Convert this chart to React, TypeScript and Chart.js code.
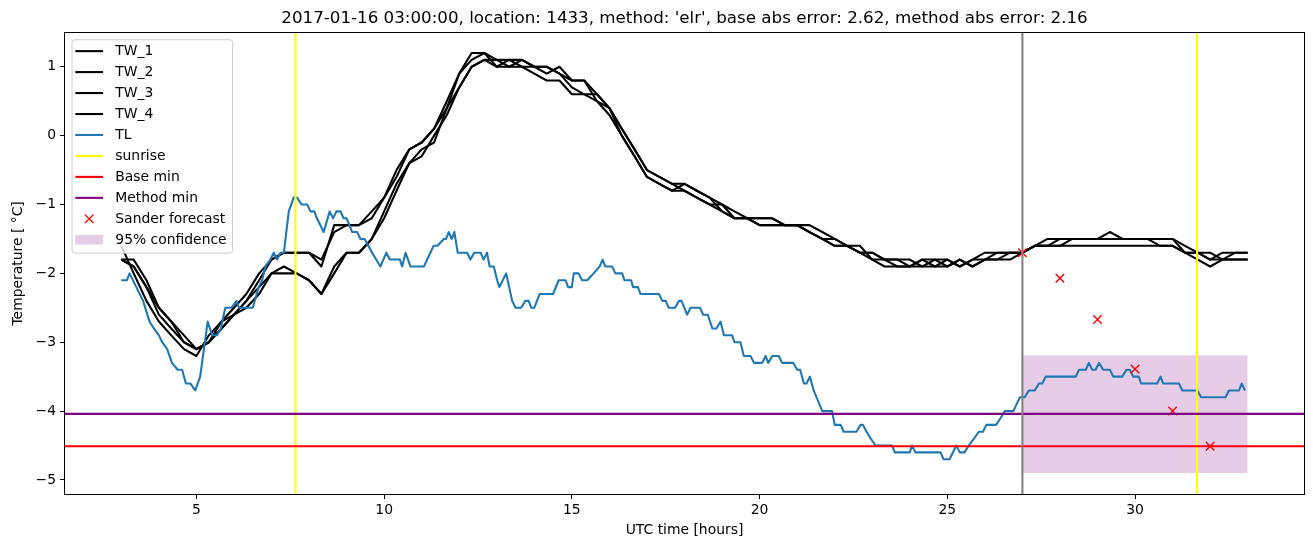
import React, { useEffect, useRef } from 'react';
import { Chart, registerables } from 'chart.js';

Chart.register(...registerables);

const FONT = "'DejaVu Sans', 'Liberation Sans', sans-serif";

const TITLE = "2017-01-16 03:00:00, location: 1433, method: 'elr', base abs error: 2.62, method abs error: 2.16";
const X_LABEL = 'UTC time [hours]';
const Y_LABEL = 'Temperature [ °C]';

const X_TICKS = [5, 10, 15, 20, 25, 30];
const Y_TICKS = [-5, -4, -3, -2, -1, 0, 1];

// 20-minute grid for the four TW series
const TW_TIME = [
  3.0, 3.33, 3.67, 4.0, 4.33, 4.67, 5.0, 5.33, 5.67, 6.0, 6.33, 6.67, 7.0, 7.33, 7.67, 8.0, 8.33, 8.67, 9.0, 9.33,
  9.67, 10.0, 10.33, 10.67, 11.0, 11.33, 11.67, 12.0, 12.33, 12.67, 13.0, 13.33, 13.67, 14.0, 14.33, 14.67, 15.0, 15.33, 15.67, 16.0,
  16.33, 16.67, 17.0, 17.33, 17.67, 18.0, 18.33, 18.67, 19.0, 19.33, 19.67, 20.0, 20.33, 20.67, 21.0, 21.33, 21.67, 22.0, 22.33, 22.67,
  23.0, 23.33, 23.67, 24.0, 24.33, 24.67, 25.0, 25.33, 25.67, 26.0, 26.33, 26.67, 27.0, 27.33, 27.67, 28.0, 28.33, 28.67, 29.0, 29.33,
  29.67, 30.0, 30.33, 30.67, 31.0, 31.33, 31.67, 32.0, 32.33, 32.67, 33.0,
];

const TW_1 = [
  -1.6, -2.0, -2.4, -2.7, -2.9, -3.1, -3.2, -2.9, -2.7, -2.5, -2.3, -2.0, -1.8, -1.7, -1.7, -1.7, -1.9, -1.3, -1.3, -1.3,
  -1.1, -0.9, -0.5, -0.2, -0.1, 0.1, 0.5, 0.9, 1.2, 1.2, 1.1, 1.1, 1.1, 1.0, 1.0, 0.9, 0.8, 0.8, 0.6, 0.4,
  0.1, -0.2, -0.5, -0.6, -0.7, -0.7, -0.8, -0.9, -1.0, -1.2, -1.2, -1.2, -1.2, -1.3, -1.3, -1.4, -1.5, -1.5, -1.6, -1.7,
  -1.7, -1.8, -1.9, -1.9, -1.8, -1.9, -1.8, -1.9, -1.8, -1.7, -1.7, -1.7, -1.7, -1.6, -1.6, -1.5, -1.5, -1.5, -1.5, -1.5,
  -1.5, -1.5, -1.5, -1.5, -1.5, -1.7, -1.7, -1.8, -1.7, -1.7, -1.7,
];

const TW_2 = [
  -1.8, -1.9, -2.2, -2.6, -2.8, -3.0, -3.1, -3.0, -2.7, -2.6, -2.4, -2.1, -1.8, -1.7, -1.7, -1.7, -1.8, -1.4, -1.3, -1.3,
  -1.2, -0.9, -0.6, -0.2, -0.1, 0.1, 0.4, 0.9, 1.1, 1.2, 1.0, 1.1, 1.0, 1.0, 0.9, 1.0, 0.8, 0.8, 0.5, 0.4,
  0.0, -0.3, -0.6, -0.7, -0.8, -0.8, -0.9, -1.0, -1.1, -1.2, -1.2, -1.3, -1.3, -1.3, -1.3, -1.4, -1.5, -1.6, -1.6, -1.7,
  -1.8, -1.9, -1.9, -1.9, -1.9, -1.9, -1.9, -1.8, -1.9, -1.8, -1.8, -1.7, -1.7, -1.6, -1.5, -1.5, -1.5, -1.5, -1.5, -1.5,
  -1.5, -1.5, -1.5, -1.6, -1.6, -1.7, -1.7, -1.7, -1.8, -1.8, -1.8,
];

const TW_3 = [
  -1.8, -1.9, -2.2, -2.5, -2.7, -3.0, -3.1, -3.0, -2.8, -2.6, -2.4, -2.2, -2.0, -1.9, -2.0, -2.1, -2.3, -1.9, -1.7, -1.7,
  -1.5, -1.1, -0.7, -0.4, -0.2, -0.1, 0.4, 0.7, 1.0, 1.1, 1.1, 1.0, 1.0, 0.9, 0.8, 0.8, 0.6, 0.6, 0.6, 0.4,
  0.1, -0.2, -0.5, -0.6, -0.7, -0.8, -0.9, -1.0, -1.0, -1.1, -1.2, -1.3, -1.3, -1.3, -1.3, -1.3, -1.4, -1.5, -1.6, -1.6,
  -1.8, -1.8, -1.8, -1.8, -1.9, -1.8, -1.8, -1.9, -1.8, -1.8, -1.7, -1.7, -1.7, -1.6, -1.6, -1.6, -1.5, -1.5, -1.5, -1.4,
  -1.5, -1.5, -1.5, -1.5, -1.5, -1.6, -1.7, -1.8, -1.8, -1.7, -1.7,
];

const TW_4 = [
  -1.8, -1.8, -2.1, -2.5, -2.7, -2.9, -3.1, -3.0, -2.8, -2.6, -2.5, -2.3, -2.0, -2.0, -2.0, -2.1, -2.3, -2.0, -1.7, -1.7,
  -1.5, -1.2, -0.8, -0.4, -0.3, 0.0, 0.3, 0.7, 1.0, 1.1, 1.0, 1.0, 1.1, 1.0, 1.0, 0.9, 0.7, 0.6, 0.5, 0.3,
  0.0, -0.3, -0.6, -0.7, -0.8, -0.7, -0.8, -0.9, -1.1, -1.2, -1.2, -1.2, -1.2, -1.3, -1.3, -1.4, -1.5, -1.6, -1.6, -1.7,
  -1.7, -1.8, -1.8, -1.9, -1.8, -1.8, -1.9, -1.8, -1.9, -1.8, -1.8, -1.8, -1.7, -1.6, -1.6, -1.6, -1.6, -1.6, -1.6, -1.6,
  -1.6, -1.6, -1.6, -1.6, -1.6, -1.7, -1.8, -1.9, -1.8, -1.8, -1.8,
];

// TL series, read at its turning points
const TL_TIME = [
  3.0, 3.15, 3.22, 3.4, 3.58, 3.75, 3.87, 4.0, 4.09, 4.22, 4.35, 4.5, 4.62, 4.72, 4.84, 4.97, 5.1, 5.3, 5.42, 5.55,
  5.65, 5.77, 5.93, 6.07, 6.13, 6.5, 6.66, 6.75, 6.84, 6.97, 7.06, 7.15, 7.24, 7.33, 7.46, 7.59, 7.68, 7.8, 7.95, 8.04,
  8.14, 8.21, 8.39, 8.55, 8.64, 8.73, 8.84, 8.92, 9.0, 9.15, 9.28, 9.37, 9.48, 9.68, 9.9, 10.06, 10.15, 10.42, 10.48, 10.57,
  10.7, 11.06, 11.23, 11.32, 11.42, 11.59, 11.65, 11.72, 11.8, 11.87, 11.96, 12.21, 12.3, 12.4, 12.57, 12.65, 12.74, 12.81, 12.92, 13.01,
  13.07, 13.25, 13.41, 13.5, 13.65, 13.76, 13.85, 13.92, 14.0, 14.14, 14.5, 14.65, 14.83, 14.9, 15.0, 15.05, 15.18, 15.27, 15.41, 15.58,
  15.74, 15.82, 15.89, 16.07, 16.16, 16.34, 16.4, 16.58, 16.63, 16.76, 16.83, 17.32, 17.41, 17.5, 17.58, 17.75, 17.85, 17.92, 18.07, 18.16,
  18.41, 18.5, 18.62, 18.74, 18.85, 18.96, 19.05, 19.27, 19.33, 19.49, 19.58, 19.76, 19.85, 20.07, 20.16, 20.23, 20.34, 20.51, 20.6, 20.9,
  21.0, 21.08, 21.18, 21.25, 21.34, 21.44, 21.67, 21.93, 22.0, 22.16, 22.24, 22.58, 22.69, 22.75, 22.85, 22.96, 23.09, 23.53, 23.6, 24.0,
  24.06, 24.15, 24.82, 24.9, 25.06, 25.24, 25.33, 25.46, 25.57, 25.71, 25.84, 25.95, 26.04, 26.3, 26.42, 26.53, 26.76, 26.93, 27.06, 27.17,
  27.33, 27.44, 27.53, 27.62, 28.42, 28.51, 28.69, 28.77, 28.86, 28.95, 29.04, 29.15, 29.33, 29.42, 29.66, 29.77, 29.86, 29.95, 30.1, 30.16,
  30.59, 30.68, 30.75, 31.17, 31.26, 31.66, 31.76, 32.41, 32.5, 32.77, 32.84, 32.93,
];

const TL = [
  -2.1, -2.1, -2.0, -2.2, -2.4, -2.7, -2.8, -2.9, -3.0, -3.1, -3.3, -3.4, -3.4, -3.6, -3.6, -3.7, -3.5, -2.7, -2.9, -2.9,
  -2.8, -2.5, -2.5, -2.4, -2.5, -2.5, -2.2, -2.1, -1.9, -1.8, -1.7, -1.8, -1.7, -1.7, -1.1, -0.9, -0.9, -1.0, -1.0, -1.1,
  -1.1, -1.2, -1.4, -1.1, -1.2, -1.1, -1.1, -1.2, -1.2, -1.4, -1.4, -1.5, -1.5, -1.7, -1.9, -1.7, -1.8, -1.8, -1.9, -1.7,
  -1.9, -1.9, -1.7, -1.6, -1.6, -1.5, -1.5, -1.4, -1.5, -1.4, -1.7, -1.7, -1.8, -1.7, -1.7, -1.8, -1.7, -1.9, -1.9, -2.1,
  -2.2, -2.0, -2.4, -2.5, -2.5, -2.4, -2.4, -2.5, -2.5, -2.3, -2.3, -2.1, -2.1, -2.2, -2.2, -2.0, -2.0, -2.1, -2.1, -2.0,
  -1.9, -1.8, -1.9, -1.9, -2.0, -2.0, -2.1, -2.1, -2.2, -2.2, -2.3, -2.3, -2.4, -2.4, -2.5, -2.5, -2.4, -2.4, -2.6, -2.5,
  -2.5, -2.6, -2.6, -2.8, -2.8, -2.7, -2.9, -2.9, -3.0, -3.0, -3.2, -3.2, -3.3, -3.3, -3.2, -3.3, -3.2, -3.2, -3.3, -3.3,
  -3.4, -3.4, -3.6, -3.6, -3.5, -3.7, -4.0, -4.0, -4.2, -4.2, -4.3, -4.3, -4.2, -4.2, -4.3, -4.4, -4.5, -4.5, -4.6, -4.6,
  -4.5, -4.6, -4.6, -4.7, -4.7, -4.5, -4.6, -4.6, -4.5, -4.4, -4.3, -4.3, -4.2, -4.2, -4.1, -4.0, -4.0, -3.8, -3.8, -3.7,
  -3.7, -3.6, -3.6, -3.5, -3.5, -3.4, -3.4, -3.3, -3.4, -3.4, -3.3, -3.4, -3.4, -3.5, -3.5, -3.4, -3.4, -3.5, -3.5, -3.6,
  -3.6, -3.5, -3.6, -3.6, -3.7, -3.7, -3.8, -3.8, -3.7, -3.7, -3.6, -3.7,
];

const SUNRISE = [7.64, 31.65];
const BASE_MIN = -4.51;
const METHOD_MIN = -4.04;
const FORECAST_START = 27;

const FORECAST_TIME = [27, 28, 29, 30, 31, 32];
const FORECAST = [-1.7, -2.07, -2.67, -3.39, -4.0, -4.51];

const CONF_TIME = [27, 33];
const CONF_LOW = [-4.9, -4.9];
const CONF_HIGH = [-3.19, -3.19];

const X_MIN = 1.5;
const X_MAX = 34.5;
const Y_MIN = -5.204;
const Y_MAX = 1.494;

const LEGEND_ITEMS = [
  { label: 'TW_1', kind: 'line', color: '#000000' },
  { label: 'TW_2', kind: 'line', color: '#000000' },
  { label: 'TW_3', kind: 'line', color: '#000000' },
  { label: 'TW_4', kind: 'line', color: '#000000' },
  { label: 'TL', kind: 'line', color: '#1f77b4' },
  { label: 'sunrise', kind: 'line', color: '#ffff00' },
  { label: 'Base min', kind: 'line', color: '#ff0000' },
  { label: 'Method min', kind: 'line', color: '#800080' },
  { label: 'Sander forecast', kind: 'x', color: '#ff0000' },
  { label: '95% confidence', kind: 'patch', color: 'rgba(128,0,128,0.2)' },
];

const LW = 2.08;

const toPts = (xs: number[], ys: number[]) => xs.map((x, i) => ({ x, y: ys[i] }));
const fmt = (v: number) => (v < 0 ? '\u2212' + Math.abs(v) : String(v));

const refPlugin = {
  id: 'refLines',
  afterDatasetsDraw(chart: any) {
    const { ctx, chartArea: a, scales } = chart;
    const x = scales.x;
    const y = scales.y;
    ctx.save();
    ctx.beginPath();
    ctx.rect(a.left, a.top, a.right - a.left, a.bottom - a.top);
    ctx.clip();
    ctx.lineWidth = LW;
    ctx.lineCap = 'butt';
    const vline = (t: number, color: string) => {
      const px = x.getPixelForValue(t);
      ctx.strokeStyle = color;
      ctx.beginPath();
      ctx.moveTo(px, a.top);
      ctx.lineTo(px, a.bottom);
      ctx.stroke();
    };
    const hline = (v: number, color: string) => {
      const py = y.getPixelForValue(v);
      ctx.strokeStyle = color;
      ctx.beginPath();
      ctx.moveTo(a.left, py);
      ctx.lineTo(a.right, py);
      ctx.stroke();
    };
    SUNRISE.forEach((t) => vline(t, '#ffff00'));
    hline(BASE_MIN, '#ff0000');
    hline(METHOD_MIN, '#800080');
    vline(FORECAST_START, '#808080');
    ctx.restore();
  },
  afterDraw(chart: any) {
    const { ctx, chartArea: a } = chart;
    ctx.save();
    // frame (all four spines)
    ctx.strokeStyle = '#000';
    ctx.lineWidth = 1;
    const l = Math.round(a.left) - 0.5;
    const t = Math.round(a.top) - 0.5;
    const r = Math.round(a.right) + 0.5;
    const b = Math.round(a.bottom) + 0.5;
    ctx.strokeRect(l, t, r - l, b - t);

    // legend
    const bx = a.left + 7;
    const by = a.top + 7;
    const bw = 160.6;
    const bh = 213.4;
    ctx.beginPath();
    if ((ctx as any).roundRect) (ctx as any).roundRect(bx, by, bw, bh, 3);
    else ctx.rect(bx, by, bw, bh);
    ctx.fillStyle = 'rgba(255,255,255,0.8)';
    ctx.fill();
    ctx.strokeStyle = '#cccccc';
    ctx.lineWidth = 1;
    ctx.stroke();
    ctx.font = `13.9px ${FONT}`;
    ctx.textBaseline = 'middle';
    ctx.textAlign = 'left';
    LEGEND_ITEMS.forEach((it, i) => {
      const cy = by + 11.4 + i * 20.96;
      const hx0 = bx + 3.3;
      const hx1 = bx + 31.1;
      if (it.kind === 'line') {
        ctx.strokeStyle = it.color;
        ctx.lineWidth = LW;
        ctx.beginPath();
        ctx.moveTo(hx0, cy);
        ctx.lineTo(hx1, cy);
        ctx.stroke();
      } else if (it.kind === 'x') {
        const cx = (hx0 + hx1) / 2;
        const s = 4.2;
        ctx.strokeStyle = it.color;
        ctx.lineWidth = 1.4;
        ctx.beginPath();
        ctx.moveTo(cx - s, cy - s);
        ctx.lineTo(cx + s, cy + s);
        ctx.moveTo(cx - s, cy + s);
        ctx.lineTo(cx + s, cy - s);
        ctx.stroke();
      } else {
        ctx.fillStyle = it.color;
        ctx.fillRect(hx0, cy - 4.9, hx1 - hx0, 9.7);
      }
      ctx.fillStyle = '#000';
      ctx.fillText(it.label, bx + 43.3, cy + 0.5);
    });
    ctx.restore();
  },
};

export default function App() {
  const ref = useRef<HTMLCanvasElement>(null);

  useEffect(() => {
    const canvas = ref.current;
    if (!canvas) return;
    const line = (label: string, xs: number[], ys: number[], color: string, order: number) => ({
      label,
      data: toPts(xs, ys),
      borderColor: color,
      backgroundColor: color,
      borderWidth: LW,
      pointRadius: 0,
      tension: 0,
      fill: false,
      order,
      borderJoinStyle: 'round',
      borderCapStyle: 'butt',
    });

    const datasets: any[] = [
      {
        label: 'conf_low',
        data: toPts(CONF_TIME, CONF_LOW),
        borderWidth: 0,
        borderColor: 'rgba(0,0,0,0)',
        pointRadius: 0,
        fill: false,
        order: 30,
      },
      {
        label: '95% confidence',
        data: toPts(CONF_TIME, CONF_HIGH),
        borderWidth: 0,
        borderColor: 'rgba(0,0,0,0)',
        backgroundColor: 'rgba(128,0,128,0.2)',
        pointRadius: 0,
        fill: '-1',
        order: 30,
      },
      line('TW_1', TW_TIME, TW_1, '#000000', 20),
      line('TW_2', TW_TIME, TW_2, '#000000', 19),
      line('TW_3', TW_TIME, TW_3, '#000000', 18),
      line('TW_4', TW_TIME, TW_4, '#000000', 17),
      line('TL', TL_TIME, TL, '#1f77b4', 16),
      {
        label: 'Sander forecast',
        data: toPts(FORECAST_TIME, FORECAST),
        showLine: false,
        pointStyle: 'crossRot',
        pointRadius: 6,
        pointBorderWidth: 1.4,
        pointBorderColor: '#ff0000',
        borderColor: '#ff0000',
        backgroundColor: '#ff0000',
        order: 1,
      },
    ];

    const tickFont = { family: FONT, size: 13.9 };

    const chart = new Chart(canvas, {
      type: 'line',
      data: { datasets },
      plugins: [refPlugin],
      options: {
        animation: false,
        responsive: false,
        maintainAspectRatio: false,
        events: [],
        layout: { padding: { left: 0, right: 9, top: 0, bottom: 0 } },
        plugins: {
          legend: { display: false },
          tooltip: { enabled: false },
          title: {
            display: true,
            text: TITLE,
            fullSize: false,
            color: '#000',
            font: { family: FONT, size: 16.7, weight: 'normal' },
            padding: { top: 8.5, bottom: 4.2 },
          },
        },
        scales: {
          x: {
            type: 'linear',
            min: X_MIN,
            max: X_MAX,
            afterFit: (s: any) => {
              s.height = 53;
            },
            afterBuildTicks: (s: any) => {
              s.ticks = X_TICKS.map((v) => ({ value: v }));
            },
            ticks: {
              color: '#000',
              font: tickFont,
              padding: 3,
              maxRotation: 0,
              autoSkip: false,
              callback: (v: any) => fmt(Number(v)),
            },
            grid: {
              display: true,
              drawOnChartArea: false,
              drawTicks: true,
              tickLength: 5,
              color: '#000',
              lineWidth: 1,
            },
            border: { display: false },
            title: {
              display: true,
              text: X_LABEL,
              color: '#000',
              font: { family: FONT, size: 13.9 },
              padding: { top: 0, bottom: 8.5 },
            },
          },
          y: {
            type: 'linear',
            min: Y_MIN,
            max: Y_MAX,
            afterFit: (s: any) => {
              s.width = 65;
            },
            afterBuildTicks: (s: any) => {
              s.ticks = Y_TICKS.map((v) => ({ value: v }));
            },
            ticks: {
              color: '#000',
              font: tickFont,
              padding: 4,
              autoSkip: false,
              callback: (v: any) => fmt(Number(v)),
            },
            grid: {
              display: true,
              drawOnChartArea: false,
              drawTicks: true,
              tickLength: 5,
              color: '#000',
              lineWidth: 1,
            },
            border: { display: false },
            title: {
              display: true,
              text: Y_LABEL,
              color: '#000',
              font: { family: FONT, size: 13.9 },
              padding: { top: 9.7, bottom: 0 },
            },
          },
        },
      } as any,
    });

    return () => chart.destroy();
  }, []);

  return (
    <div
      style={{
        position: 'fixed',
        left: 0,
        top: 0,
        width: 1313,
        height: 547,
        background: '#ffffff',
      }}
    >
      <canvas ref={ref} width={1313} height={547} style={{ display: 'block', width: 1313, height: 547 }} />
    </div>
  );
}
